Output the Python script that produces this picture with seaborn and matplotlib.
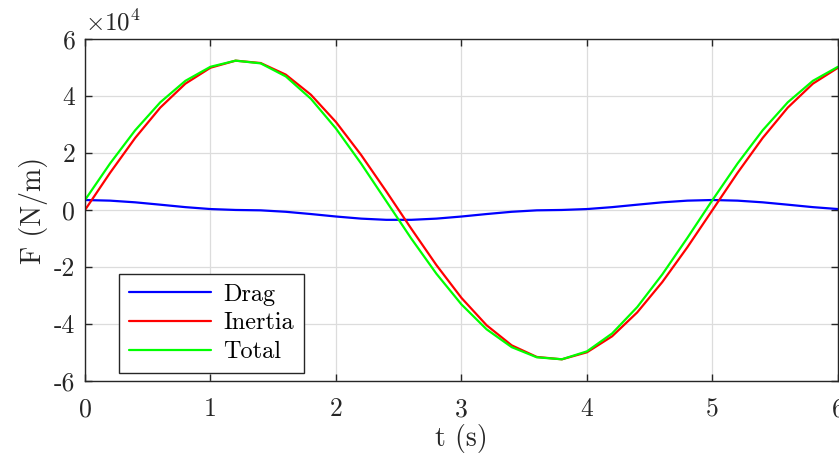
import pandas as pd
import matplotlib
matplotlib.use("Agg")
import matplotlib.pyplot as plt
import seaborn as sns

# time samples (s)
t = [0.0, 0.2, 0.4, 0.6, 0.8, 1.0, 1.2, 1.4, 1.6, 1.8, 2.0,
     2.2, 2.4, 2.6, 2.8, 3.0, 3.2, 3.4, 3.6, 3.8, 4.0,
     4.2, 4.4, 4.6, 4.8, 5.0, 5.2, 5.4, 5.6, 5.8, 6.0]

# forces (N/m)
drag = [3500, 3280, 2690, 1860, 1000, 330, 10, -120, -630, -1420, -2290,
        -3030, -3450, -3450, -3030, -2290, -1420, -630, -120, 10, 330,
        1000, 1860, 2690, 3280, 3500, 3280, 2690, 1860, 1000, 330]
inertia = [0, 13060, 25290, 35940, 44330, 49930, 52400, 51570, 47500, 40450, 30860,
           19330, 6580, -6580, -19330, -30860, -40450, -47500, -51570, -52400, -49930,
           -44330, -35940, -25290, -13060, 0, 13060, 25290, 35940, 44330, 49930]
total = [d + i for d, i in zip(drag, inertia)]

yticks = [-60000, -40000, -20000, 0, 20000, 40000, 60000]
ytick_labels = ["-6", "-4", "-2", "0", "2", "4", "6"]
xticks = [0, 1, 2, 3, 4, 5, 6]

df = pd.DataFrame({"t": t * 3,
                   "F": drag + inertia + total,
                   "series": ["Drag"] * len(t) + ["Inertia"] * len(t) + ["Total"] * len(t)})

sns.set_style("ticks")
plt.rcParams["font.family"] = ["cmr10", "DejaVu Serif"]
plt.rcParams["mathtext.fontset"] = "cm"
plt.rcParams["axes.unicode_minus"] = False

fig = plt.figure(figsize=(8.39, 4.59), dpi=100)
ax = fig.add_axes([0.1013, 0.170, 0.8975, 0.745])

sns.lineplot(data=df, x="t", y="F", hue="series",
             palette={"Drag": "#0000ff", "Inertia": "#ff0000", "Total": "#00ff00"},
             linewidth=1.6, ax=ax, sort=False)

ax.set_xlim(0, 6)
ax.set_ylim(-60000, 60000)
ax.set_xticks(xticks)
ax.set_xticklabels([str(v) for v in xticks])
ax.set_yticks(yticks)
ax.set_yticklabels(ytick_labels)
ax.grid(True, color="#dcdcdc", linewidth=0.9)
ax.set_axisbelow(True)

for s in ax.spines.values():
    s.set_visible(True)
    s.set_color("#262626")
    s.set_linewidth(1.0)
ax.tick_params(direction="in", top=True, right=True, length=5, width=1.0,
               color="#262626", labelsize=18.5, labelcolor="#262626", pad=7)
ax.tick_params(axis="x", pad=12)

ax.set_xlabel("t (s)", fontsize=20, color="#262626", labelpad=2)
ax.set_ylabel("F (N/m)", fontsize=20, color="#262626", labelpad=4)
ax.text(0.0, 1.01, r"$\times10^{4}$", transform=ax.transAxes, fontsize=18,
        color="#262626", ha="left", va="bottom")

leg = ax.legend(loc="lower left", bbox_to_anchor=(0.045, 0.023), fontsize=17.5,
                handlelength=3.4, frameon=True, fancybox=False, borderaxespad=0,
                labelspacing=0.28, borderpad=0.4, handletextpad=0.5)
leg.get_frame().set_edgecolor("#262626")
leg.get_frame().set_linewidth(1.0)
leg.get_frame().set_alpha(1)
for txt in leg.get_texts():
    txt.set_color("#000000")

fig.savefig("out.png", dpi=100)
